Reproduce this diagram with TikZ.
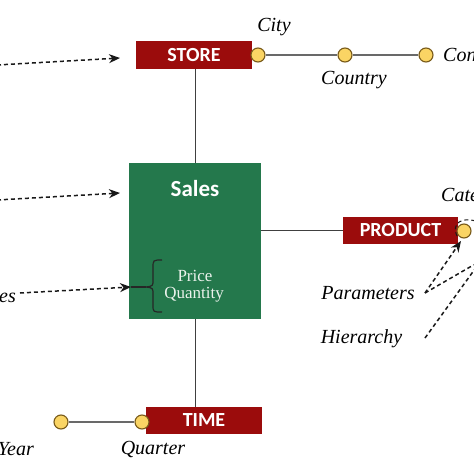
\documentclass[tikz,border=0pt]{standalone}
\usepackage{fontspec}
\setmainfont{Liberation Serif}
\newfontfamily\boxfont{Carlito}
\usetikzlibrary{arrows.meta}
\definecolor{boxred}{RGB}{155,12,12}
\definecolor{boxgreen}{RGB}{36,120,76}
\definecolor{dotfill}{RGB}{250,212,100}
\definecolor{dotline}{RGB}{120,90,25}
\definecolor{linkgray}{RGB}{105,105,105}
\definecolor{softwhite}{RGB}{235,242,236}
\begin{document}
\begin{tikzpicture}[x=1pt,y=-1pt,
  dimbox/.style={fill=boxred, text=white, font=\boxfont\bfseries\fontsize{20}{24}\selectfont,
    minimum height=27pt, inner sep=0pt},
  factbox/.style={fill=boxgreen, minimum width=132pt, minimum height=156pt, inner sep=0pt},
  dot/.style={circle, fill=dotfill, draw=dotline, line width=1.1pt, minimum size=14pt, inner sep=0pt},
  lbl/.style={font=\itshape\fontsize{20}{24}\selectfont, inner sep=0pt},
  link/.style={draw=linkgray, line width=1.5pt},
  solidlink/.style={draw=black!75, line width=1pt},
  dashlink/.style={draw=black!90, line width=1.5pt, dash pattern=on 4pt off 3pt},
  tip/.style={-{Stealth[length=11pt,width=9pt,inset=3.5pt]}}
]
\useasboundingbox (0,0) rectangle (474,474);
\clip (0,0) rectangle (474,474);

% boxes
\node[factbox] (sales) at (195,241) {};
\node[font=\boxfont\bfseries\fontsize{23}{27}\selectfont, text=white, inner sep=0pt] (salest) at (195,189) {Sales};
\node[font=\fontsize{17}{20}\selectfont, text=softwhite, inner sep=0pt] (price) at (195,276) {Price};
\node[font=\fontsize{17}{20}\selectfont, text=softwhite, inner sep=0pt] (qty) at (194,295) {Quantity};

\node[dimbox, minimum width=116pt, minimum height=28pt] (store) at (194,55) {STORE};
\node[dimbox, minimum width=115pt] (product) at (400.5,230.5) {PRODUCT};
\node[dimbox, minimum width=116pt] (time) at (204,420.5) {TIME};

% solid links
\draw[solidlink] (sales.north) -- (sales.north |- store.south);
\draw[solidlink] (sales.south) -- (sales.south |- time.north);
\draw[solidlink] (product.west) -- (product.west -| sales.east);

% hierarchy dots
\node[dot] (city) at (258,55) {};
\node[dot] (country) at (345,55) {};
\node[dot] (continent) at (426,55) {};
\node[dot] (category) at (464,231) {};
\node[dot] (quarter) at (142,422) {};
\node[dot] (year) at (61,422) {};
\draw[link] (city) -- (country);
\draw[link] (country) -- (continent);
\draw[link] (quarter) -- (year);

% labels
\node[lbl] (cityl) at (274,27) {City};
\node[lbl] (countryl) at (354,80) {Country};
\node[lbl, anchor=west] (continentl) at (443,55) {Continent};
\node[lbl, anchor=west] (categoryl) at (441,197) {Category};
\node[lbl] (quarterl) at (153,449) {Quarter};
\node[lbl, anchor=east] (yearl) at (34,449) {Year};
\node[lbl] (paraml) at (368,293) {Parameters};
\node[lbl] (hierl) at (361.5,339) {Hierarchy};
\node[lbl, anchor=east] (measl) at (16,296) {Measures};

% brace
\coordinate (bracetip) at (146,287);
\draw[black!85, line width=1.2pt] (162,260) .. controls (153,260) .. (153,268) -- (153,280)
  .. controls (153,286) .. (bracetip) .. controls (153,288) .. (153,294) -- (153,305)
  .. controls (153,312) .. (162,312);

% dashed arrows from the left
\coordinate (s1) at (-3,65);
\coordinate (e1) at (120,58);
\coordinate (s2) at (-3,200);
\coordinate (e2) at (120,193);
\coordinate (s3) at (20,293);
\coordinate (e3) at (131,287);
\draw[dashlink, tip] (s1) -- (e1);
\draw[dashlink, tip] (s2) -- (e2);
\draw[dashlink, tip] (s3) -- (e3);
\draw[black!85, line width=1.8pt] (e3) -- (bracetip);

% dashed lines near the product
\coordinate (p0) at (425,293);
\coordinate (h0) at (425,338);
\coordinate (pe) at (461,241);
\coordinate (offr) at (480,262);
\coordinate (arcs) at (457,236);
\coordinate (arce) at (476,221);
\draw[dashlink, tip] (p0) -- (pe);
\draw[dashlink] (p0) -- (470,267) -- (offr);
\draw[dashlink] (h0) -- (offr);
\draw[dashlink, line width=1pt] (arcs) .. controls (451,223) and (462,217) .. (arce);
\end{tikzpicture}
\end{document}
